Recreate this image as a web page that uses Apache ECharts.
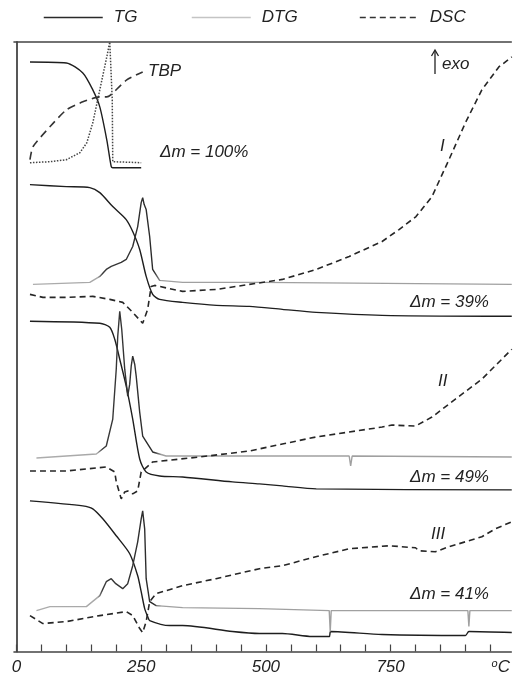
<!DOCTYPE html>
<html>
<head>
<meta charset="utf-8">
<script src="https://cdn.jsdelivr.net/npm/echarts@6/dist/echarts.min.js"></script>
<style>
html,body{margin:0;padding:0;background:#fff;}
#chart{width:513px;height:676px;}
</style>
</head>
<body>
<div id="chart"></div>
<script>
// Temperature (°C) vs. stacked signal (arbitrary units, offset per sample)
var xTickValues = [0,50,100,150,200,250,300,350,400,450,500,550,600,650,700,750,800,850,900,950];
var xLabelValues = [0,250,500,750];
var unitLabelValue = 971;

// Inset: TBP (Δm = 100%)
var tbpTG  = [[27,591],[100,590],[133,580],[153,563],[167,546],[181,513],[190,486],[193,485],[250,485]];
var tbpDTG = [[27,490],[67,491],[100,493],[127,500],[141,510],[153,530],[167,563],[181,596],[187,611],[190,611],[192,553],[193,491],[250,490]];
var tbpDSC = [[27,493],[33,506],[67,526],[100,543],[133,551],[167,556],[181,556],[189,558],[221,573],[253,581]];

// Sample I (Δm = 39%)
var tg1  = [[27,468],[100,466],[147,465],[167,460],[193,446],[220,433],[233,421],[247,403],[260,376],[273,358],[287,353],[333,350],[401,347],[467,346],[533,343],[601,340],[733,337],[993,336]];
var dtg1 = [[33,368],[147,370],[167,376],[180,383],[190,386],[200,388],[210,390],[220,393],[233,406],[243,426],[250,450],[253,455],[256,448],[260,443],[267,416],[273,383],[287,372],[333,370],[487,370],[993,368]];
var dsc1 = [[27,358],[53,355],[100,355],[153,356],[187,353],[213,350],[233,340],[253,329],[263,343],[270,366],[277,367],[333,361],[401,363],[467,368],[533,373],[601,383],[667,396],[733,411],[767,423],[801,436],[833,456],[867,493],[900,530],[933,563],[967,586],[993,596]];

// Sample II (Δm = 49%)
var tg2  = [[27,331],[167,329],[187,325],[197,313],[207,293],[220,266],[233,233],[247,193],[260,180],[287,176],[333,175],[433,170],[487,168],[533,166],[601,163],[993,162]];
var dtg2 = [[40,194],[160,198],[180,206],[193,233],[200,283],[203,316],[207,341],[211,323],[217,283],[223,256],[227,268],[230,286],[233,296],[237,288],[240,276],[247,240],[253,216],[273,200],[300,196],[487,196],[667,196],[670,186],[673,196],[993,195]];
var dsc2 = [[27,181],[100,181],[180,185],[197,180],[200,170],[210,153],[217,160],[223,161],[233,158],[243,161],[250,180],[253,181],[273,190],[367,195],[467,201],[533,208],[600,215],[667,220],[733,225],[753,227],[800,226],[833,235],[880,253],[933,273],[993,303]];

// Sample III (Δm = 41%)
var tg3  = [[27,151],[133,146],[153,143],[173,133],[200,116],[227,98],[243,76],[250,60],[257,43],[263,35],[267,31],[307,26],[333,26],[433,20],[487,18],[533,18],[593,15],[627,15],[630,20],[733,17],[900,16],[907,20],[993,19]];
var dtg3 = [[40,41],[67,45],[140,45],[167,56],[180,70],[190,73],[199,68],[213,63],[223,68],[233,86],[243,110],[250,133],[253,141],[257,123],[260,73],[267,50],[280,46],[333,44],[487,43],[627,41],[629,20],[631,41],[905,41],[907,25],[909,41],[993,41]];
var dsc3 = [[27,36],[53,28],[100,30],[167,36],[220,40],[233,36],[247,23],[253,19],[260,30],[267,50],[280,58],[333,66],[400,73],[487,83],[533,86],[600,95],[667,103],[747,106],[800,104],[807,101],[840,100],[867,105],[933,115],[960,123],[993,130]];

var FONT = 'Liberation Sans, Arial, sans-serif';
var chart = echarts.init(document.getElementById('chart'));

function line(name, data, style, smooth) {
  return { name: name, type: 'line', data: data, symbol: 'none', showSymbol: false,
    smooth: smooth || false,
    lineStyle: style, itemStyle: { color: '#222' },
    emphasis: { disabled: true }, silent: true, animation: false };
}
// DTG: light grey baseline, dark noisy peak zone (global horizontal gradient, hard stops)
var dtgColor = new echarts.graphic.LinearGradient(0, 0, 513, 0, [
  { offset: 0, color: '#b0b0b0' }, { offset: 0.19, color: '#a8a8a8' },
  { offset: 0.20, color: '#3a3a3a' }, { offset: 0.30, color: '#2a2a2a' },
  { offset: 0.315, color: '#a0a0a0' }, { offset: 1, color: '#a0a0a0' }
], true);
var tgStyle  = { color: '#1e1e1e', width: 1.4, type: 'solid' };
var dtgStyle = { color: dtgColor, width: 1.4, type: 'solid' };
var dscStyle = { color: '#262626', width: 1.6, type: [6, 4] };

var series = [
  line('TBP TG', tbpTG, tgStyle, 0.25),
  line('TBP DTG', tbpDTG, { color: '#444', width: 1.5, type: 'dotted' }),
  line('TBP DSC', tbpDSC, { color: '#333', width: 1.6, type: [8, 5] }, 0.2),
  line('TG', tg1, tgStyle, 0.25),
  line('DTG', dtg1, dtgStyle),
  line('DSC', dsc1, dscStyle),
  line('TG', tg2, tgStyle, 0.25),
  line('DTG', dtg2, dtgStyle),
  line('DSC', dsc2, dscStyle),
  line('TG', tg3, tgStyle, 0.25),
  line('DTG', dtg3, dtgStyle),
  line('DSC', dsc3, dscStyle)
];

var legendText = { fontFamily: FONT, fontStyle: 'italic', fontSize: 17, color: '#222', padding: [0, 0, 0, 6] };
function leg(name, left, ls) {
  return { data: [{ name: name }], left: left, top: 4, itemWidth: 59, itemHeight: 14,
    textStyle: legendText, selectedMode: false,
    itemStyle: { opacity: 0 },
    lineStyle: Object.assign({ opacity: 1 }, ls) };
}

function txt(str, x, y) {
  return { type: 'text', left: x, top: y, silent: true,
    style: { text: str, font: 'italic 17px ' + FONT, fill: '#222' } };
}

chart.setOption({
  animation: false,
  backgroundColor: '#fff',
  grid: { left: 14, top: 42, right: 0, bottom: 23, containLabel: false },
  legend: [
    leg('TG', 38, { color: '#2a2a2a', width: 1.5, type: 'solid' }),
    leg('DTG', 186, { color: '#c4c4c4', width: 1.5, type: 'solid' }),
    leg('DSC', 354, { color: '#333', width: 1.6, type: [6, 4] })
  ],
  xAxis: [{
    type: 'value', min: -5, max: 992, position: 'bottom',
    axisLine: { show: true, lineStyle: { color: '#444', width: 1.6 } },
    axisTick: { show: true, inside: true, length: 7, customValues: xTickValues, lineStyle: { color: '#444', width: 1.2 } },
    axisLabel: {
      customValues: xLabelValues.concat([unitLabelValue]), margin: 7,
      fontFamily: FONT, fontStyle: 'italic', fontSize: 17, color: '#222',
      formatter: function (v) { return v === unitLabelValue ? '{s|o}{c|C}' : String(v); },
      rich: {
        s: { fontFamily: FONT, fontStyle: 'italic', fontSize: 11, color: '#222', padding: [0, 0, 7, 0] },
        c: { fontFamily: FONT, fontStyle: 'italic', fontSize: 17, color: '#222' }
      }
    },
    splitLine: { show: false }
  }, {
    type: 'value', min: -5, max: 992, position: 'top',
    axisLine: { show: true, lineStyle: { color: '#444', width: 1.6 } },
    axisTick: { show: false }, axisLabel: { show: false }, splitLine: { show: false }
  }],
  yAxis: {
    type: 'value', min: 0, max: 611,
    axisLine: { show: true, lineStyle: { color: '#444', width: 1.8 } },
    axisTick: { show: false }, axisLabel: { show: false }, splitLine: { show: false }
  },
  series: series,
  graphic: [
    txt('TBP', 148, 63),
    txt('\u0394m = 100%', 160, 144),
    { type: 'polyline', silent: true, shape: { points: [[435, 74], [435, 51]] }, style: { stroke: '#222', lineWidth: 1.3 } },
    { type: 'polyline', silent: true, shape: { points: [[431.5, 56], [435, 50], [438.5, 56]] }, style: { stroke: '#222', lineWidth: 1.3, fill: null } },
    txt('exo', 442, 56),
    txt('I', 440, 138),
    txt('\u0394m = 39%', 410, 294),
    txt('II', 438, 373),
    txt('\u0394m = 49%', 410, 469),
    txt('III', 431, 526),
    txt('\u0394m = 41%', 410, 586)
  ]
});
</script>
</body>
</html>
